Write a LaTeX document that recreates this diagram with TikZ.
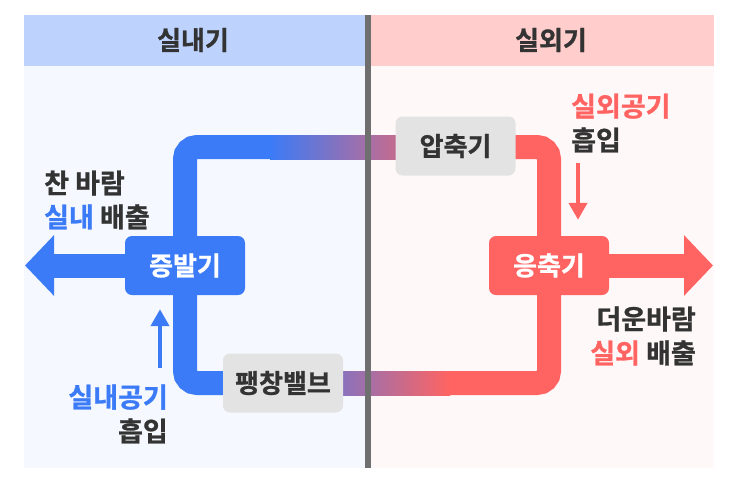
\documentclass[tikz,border=0pt]{standalone}
\usepackage{fontspec}
\setmainfont{Noto Sans CJK KR}[BoldFont={Noto Sans CJK KR Bold}, BoldFeatures={FakeBold=1}]
\usetikzlibrary{arrows.meta}
\usetikzlibrary{positioning}

\definecolor{pipeblue}{HTML}{3B7BF7}
\definecolor{pipered}{HTML}{FF6462}
\definecolor{headblue}{HTML}{BED2FE}
\definecolor{headpink}{HTML}{FFCDCC}
\definecolor{roomblue}{HTML}{F5F8FE}
\definecolor{roompink}{HTML}{FFF8F8}
\definecolor{boxgray}{HTML}{E3E3E3}
\definecolor{textdark}{HTML}{333333}
\definecolor{wallgray}{HTML}{6F6F6F}

\pgfdeclarelayer{room}
\pgfdeclarelayer{piping}
\pgfsetlayers{room,piping,main}

\tikzset{
  part/.style={rounded corners=7pt, minimum width=120pt, minimum height=59pt,
    inner sep=0pt, font=\bfseries\fontsize{26}{30}\selectfont},
  graypart/.style={part, fill=boxgray, text=textdark},
  pipe/.style={line width=24pt, rounded corners=12pt},
  bigarrow/.style={line width=24pt, -{Triangle[length=29pt,width=59pt]}},
  airarrow/.style={line width=4pt, -{Triangle[length=17pt,width=18pt]}},
  note/.style={inner sep=0pt, text=textdark, font=\bfseries\fontsize{27}{34}\selectfont},
  head/.style={inner sep=0pt, text=textdark, font=\bfseries\fontsize{26}{30}\selectfont}
}

\begin{document}
\begin{tikzpicture}[x=1pt,y=-1pt]
    \useasboundingbox (0,0) rectangle (737,491);

    % 1. Indoor and outdoor panels
    \begin{pgfonlayer}{room}
        \fill[white] (0,0) rectangle (737,491);
        \fill[roomblue] (24,66) rectangle (368,468);
        \fill[roompink] (368,66) rectangle (714,468);
        \fill[headblue] (24,15) rectangle (368,66);
        \fill[headpink] (368,15) rectangle (714,66);
    \end{pgfonlayer}
    \node[head] (indoor) at (193,40) {실내기};
    \node[head] (outdoor) at (551,40) {실외기};

    % 2. The four parts of the cycle
    \node[part, fill=pipeblue, text=white] (evap) at (185,265.5) {증발기};
    \node[graypart] (comp) at (455.5,146) {압축기};
    \node[part, fill=pipered, text=white] (cond) at (549,265.5) {응축기};
    \node[graypart] (valve) at (283,383) {팽창밸브};

    % 3. Refrigerant piping, fading from blue to red across the wall
    \coordinate (topfade) at (270,147);
    \coordinate (topwarm) at (450,147);
    \coordinate (lowfade) at (270,383);
    \coordinate (lowwarm) at (450,383);
    \coordinate (coldtip) at (25,265.5);
    \coordinate (hottip) at (713,265.5);
    \begin{pgfonlayer}{piping}
        \shade[left color=pipeblue, right color=pipered] (270,135) rectangle (450,159);
        \shade[left color=pipeblue, right color=pipered] (270,371) rectangle (450,395);
        \draw[pipe, pipeblue] (topfade) -| (evap.center) |- (lowfade);
        \draw[pipe, pipered] (topwarm) -| (cond.center) |- (lowwarm);
        \draw[bigarrow, pipeblue] (evap.center) -- (coldtip);
        \draw[bigarrow, pipered] (cond.center) -- (hottip);
        % wall between the two units
        \fill[wallgray] (365,15) rectangle (371,468);
    \end{pgfonlayer}

    % 4. Air taken in and blown out
    \node[note, anchor=west, align=left] (coldair) at (44,200) {찬 바람\\{\color{pipeblue}실내} 배출};
    \node[note, anchor=east, align=right] (roomair) at (168,414) {{\color{pipeblue}실내공기}\\흡입};
    \node[note, anchor=west, align=left] (freshair) at (571,123) {{\color{pipered}실외공기}\\흡입};
    \node[note, anchor=east, align=right] (hotair) at (696,336) {더운바람\\{\color{pipered}실외} 배출};

    \coordinate (intake) at (160,368);
    \coordinate (outtake) at (578,163);
    \draw[airarrow, pipeblue, shorten >=14pt] (intake) -- (intake |- evap.south);
    \draw[airarrow, pipered, shorten >=16pt] (outtake) -- (outtake |- cond.north);

\end{tikzpicture}
\end{document}
